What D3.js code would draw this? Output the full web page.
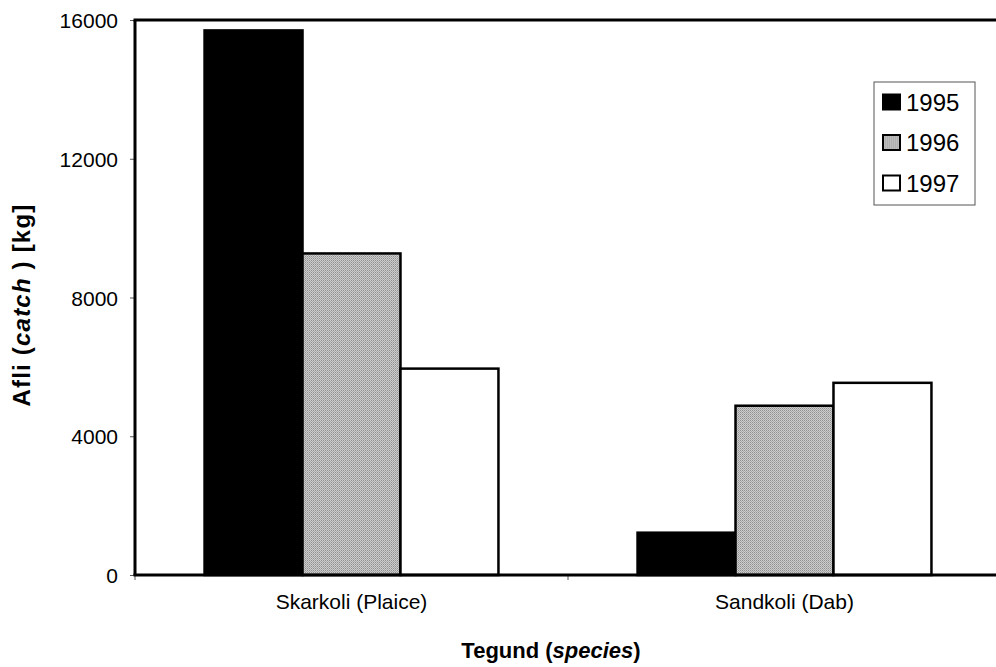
<!DOCTYPE html>
<html>
<head>
<meta charset="utf-8">
<script src="https://cdn.jsdelivr.net/npm/d3@7"></script>
<style>
  html, body { margin: 0; padding: 0; background: #fff; }
  svg { display: block; }
  svg text { font-family: Arial, "Liberation Sans", sans-serif; }
</style>
</head>
<body>
<svg id="chart" width="996" height="667"></svg>
<script>
// Catch per species and year, kg
const species = ["Skarkoli (Plaice)", "Sandkoli (Dab)"];
const years = ["1995", "1996", "1997"];
const catch1995 = [15700, 1220];
const catch1996 = [9270, 4880];
const catch1997 = [5950, 5540];
const yTicks = [0, 4000, 8000, 12000, 16000];

const seriesValues = [catch1995, catch1996, catch1997];
const rows = species.map((s, i) => ({
  species: s,
  values: years.map((y, j) => ({ year: y, value: seriesValues[j][i] }))
}));

const svg = d3.select("#chart");
const margin = { left: 135, top: 20, right: -5, bottom: 92 };
const width = 996 - margin.left - margin.right;
const height = 667 - margin.top - margin.bottom;

const defs = svg.append("defs");
// Fine halftone grey for the 1996 bars
const pat = defs.append("pattern")
  .attr("id", "halftone")
  .attr("width", 2).attr("height", 2)
  .attr("patternUnits", "userSpaceOnUse");
pat.append("rect").attr("width", 2).attr("height", 2).attr("fill", "#cdcdcd");
pat.append("rect").attr("width", 1).attr("height", 1).attr("fill", "#909090");
pat.append("rect").attr("x", 1).attr("y", 1).attr("width", 1).attr("height", 1).attr("fill", "#a8a8a8");

const fills = { "1995": "#000", "1996": "url(#halftone)", "1997": "#fff" };

const g = svg.append("g").attr("transform", `translate(${margin.left},${margin.top})`);

const x0 = d3.scaleBand().domain(species).range([0, width]).paddingInner(0).paddingOuter(0);
const x1 = d3.scaleBand().domain(years).range([0, x0.bandwidth()]).paddingInner(0).paddingOuter(0.71);
const y = d3.scaleLinear().domain([0, 16000]).range([height, 0]);

// Bars
const groups = g.selectAll("g.grp").data(rows).join("g")
  .attr("class", "grp")
  .attr("transform", d => `translate(${x0(d.species)},0)`);
groups.selectAll("rect").data(d => d.values).join("rect")
  .attr("x", d => x1(d.year))
  .attr("y", d => y(d.value))
  .attr("width", x1.bandwidth())
  .attr("height", d => y(0) - y(d.value))
  .attr("fill", d => fills[d.year])
  .attr("stroke", "#000")
  .attr("stroke-width", 2.5);

// Y axis
const yAxis = g.append("g").call(
  d3.axisLeft(y).tickValues(yTicks).tickFormat(d3.format("d")).tickSize(5).tickSizeOuter(0)
);
yAxis.attr("font-family", null).attr("font-size", null);
yAxis.select(".domain").remove();
yAxis.selectAll(".tick line").attr("stroke", "#555").attr("stroke-width", 1);
yAxis.selectAll(".tick text")
  .attr("x", -17)
  .attr("dy", "0.36em")
  .style("font-size", "21px")
  .attr("fill", "#000");

// X axis
const xAxis = g.append("g").attr("transform", `translate(0,${height})`).call(
  d3.axisBottom(x0).tickSize(0).tickSizeOuter(0)
);
xAxis.attr("font-family", null).attr("font-size", null);
xAxis.select(".domain").remove();
xAxis.selectAll(".tick line").remove();
xAxis.selectAll(".tick text")
  .attr("y", 34)
  .attr("dy", 0)
  .style("font-size", "21px")
  .attr("fill", "#000");
// category boundary ticks
g.selectAll("line.cat-tick").data(species).join("line")
  .attr("class", "cat-tick")
  .attr("x1", d => x0(d)).attr("x2", d => x0(d))
  .attr("y1", height).attr("y2", height + 5)
  .attr("stroke", "#555").attr("stroke-width", 1);

// Frame lines: left, top and bottom
g.append("line").attr("x1", 0).attr("x2", 0).attr("y1", 0).attr("y2", height)
  .attr("stroke", "#000").attr("stroke-width", 3);
g.append("line").attr("x1", -1.5).attr("x2", width).attr("y1", 0).attr("y2", 0)
  .attr("stroke", "#000").attr("stroke-width", 3);
g.append("line").attr("x1", -1.5).attr("x2", width).attr("y1", height).attr("y2", height)
  .attr("stroke", "#000").attr("stroke-width", 3);

// Axis titles
const yTitle = svg.append("text")
  .attr("transform", "translate(30,305) rotate(-90)")
  .attr("text-anchor", "middle")
  .style("font-size", "24px")
  .attr("letter-spacing", 1.2)
  .attr("font-weight", "bold");
yTitle.append("tspan").text("Afli (");
yTitle.append("tspan").attr("font-style", "italic").text("catch");
yTitle.append("tspan").text(" ) [kg]");

const xTitle = svg.append("text")
  .attr("x", 551)
  .attr("y", 658)
  .attr("text-anchor", "middle")
  .style("font-size", "22px")
  .attr("font-weight", "bold");
xTitle.append("tspan").text("Tegund (");
xTitle.append("tspan").attr("font-style", "italic").text("species");
xTitle.append("tspan").text(")");

// Legend
const legend = svg.append("g").attr("transform", "translate(874,82)");
legend.append("rect")
  .attr("width", 101).attr("height", 123)
  .attr("fill", "#fff").attr("stroke", "#555").attr("stroke-width", 1);
const items = legend.selectAll("g.item").data(years).join("g")
  .attr("class", "item")
  .attr("transform", (d, i) => `translate(9,${20 + i * 40.5})`);
items.append("rect")
  .attr("x", 0).attr("y", -7.5)
  .attr("width", 17).attr("height", 15)
  .attr("fill", d => fills[d])
  .attr("stroke", "#000").attr("stroke-width", 2);
items.append("text")
  .attr("x", 23).attr("y", 8.5)
  .style("font-size", "24px")
  .text(d => d);
</script>
</body>
</html>
